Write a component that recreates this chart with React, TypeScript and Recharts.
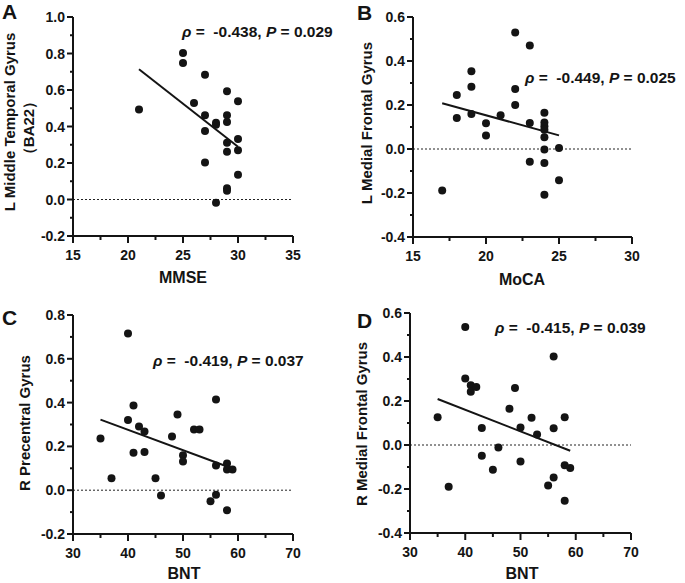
import React from 'react';
import { ScatterChart, Scatter, XAxis, YAxis, ReferenceLine } from 'recharts';

const FONT = '"Liberation Sans", Arial, Helvetica, sans-serif';
const INK = '#141414';

// ---------- Panel A ----------
const mmseA = [21, 25, 25, 26, 27, 27, 27, 27, 28, 28, 28, 29, 29, 29, 29, 29, 29, 29, 30, 30, 30, 30];
const mtgA = [0.493, 0.803, 0.748, 0.529, 0.684, 0.462, 0.376, 0.203, 0.42, 0.41, -0.018, 0.593, 0.462, 0.425, 0.311, 0.261, 0.061, 0.048, 0.539, 0.332, 0.27, 0.135];
const fitXA = [21, 30];
const fitYA = [0.714, 0.289];
const xTicksA = [15, 17.5, 20, 22.5, 25, 27.5, 30, 32.5, 35];
const yTicksA = [-0.2, -0.1, 0, 0.1, 0.2, 0.3, 0.4, 0.5, 0.6, 0.7, 0.8, 0.9, 1.0];

// ---------- Panel B ----------
const mocaB = [17, 18, 18, 19, 19, 19, 20, 20, 21, 22, 22, 22, 23, 23, 23, 24, 24, 24, 24, 24, 24, 24, 24, 25, 25];
const mfgB = [-0.189, 0.245, 0.141, 0.353, 0.283, 0.159, 0.117, 0.061, 0.153, 0.53, 0.273, 0.2, 0.471, 0.118, -0.058, 0.165, 0.121, 0.103, 0.088, 0.053, -0.002, -0.064, -0.208, 0.005, -0.142];
const fitXB = [17, 25];
const fitYB = [0.208, 0.062];
const xTicksB = [15, 17.5, 20, 22.5, 25, 27.5, 30];
const yTicksB = [-0.4, -0.3, -0.2, -0.1, 0, 0.1, 0.2, 0.3, 0.4, 0.5, 0.6];

// ---------- Panel C ----------
const bntC = [35, 37, 40, 40, 41, 41, 42, 43, 43, 45, 46, 48, 49, 50, 50, 52, 53, 55, 56, 56, 56, 58, 58, 58, 59];
const pcgC = [0.236, 0.055, 0.716, 0.32, 0.387, 0.171, 0.291, 0.268, 0.174, 0.055, -0.024, 0.245, 0.346, 0.16, 0.131, 0.277, 0.277, -0.051, 0.414, 0.113, -0.021, 0.122, 0.095, -0.092, 0.094];
const fitXC = [35, 59];
const fitYC = [0.322, 0.099];
const xTicksC = [30, 35, 40, 45, 50, 55, 60, 65, 70];
const yTicksC = [-0.2, -0.1, 0, 0.1, 0.2, 0.3, 0.4, 0.5, 0.6, 0.7, 0.8];

// ---------- Panel D ----------
const bntD = [35, 37, 40, 40, 41, 41, 42, 43, 43, 45, 46, 48, 49, 50, 50, 52, 53, 55, 56, 56, 56, 58, 58, 58, 59];
const mfgD = [0.126, -0.19, 0.536, 0.302, 0.272, 0.242, 0.264, 0.077, -0.049, -0.113, -0.011, 0.165, 0.259, 0.08, -0.075, 0.124, 0.048, -0.184, 0.402, 0.076, -0.148, 0.126, -0.092, -0.253, -0.105];
const fitXD = [35, 59];
const fitYD = [0.209, -0.026];
const xTicksD = [30, 35, 40, 45, 50, 55, 60, 65, 70];
const yTicksD = [-0.4, -0.3, -0.2, -0.1, 0, 0.1, 0.2, 0.3, 0.4, 0.5, 0.6];

const zip = (xs: number[], ys: number[]) => xs.map((x, i) => ({ x, y: ys[i] }));

const makeYTick = () => (props: any) => {
  const { x, y, payload } = props;
  const v = payload.value as number;
  const major = Math.abs(Math.round(v * 10)) % 2 === 0;
  return (
    <g>
      <line x1={x - (major ? 6 : 3)} x2={x} y1={y} y2={y} stroke={INK} strokeWidth={2} />
      {major && (
        <text x={x - 8} y={y} dy="0.36em" textAnchor="end" fontFamily={FONT} fontWeight="bold" fontSize={14} fill={INK}>
          {v.toFixed(1)}
        </text>
      )}
    </g>
  );
};

const makeXTick = (step: number) => (props: any) => {
  const { x, y, payload } = props;
  const v = payload.value as number;
  const major = Math.abs(v % step) < 1e-9;
  return (
    <g>
      <line x1={x} x2={x} y1={y} y2={y + (major ? 7 : 4)} stroke={INK} strokeWidth={2} />
      {major && (
        <text x={x} y={y + 24} textAnchor="middle" fontFamily={FONT} fontWeight="bold" fontSize={14} fill={INK}>
          {String(v)}
        </text>
      )}
    </g>
  );
};

const dot = (p: any) => <circle cx={p.cx} cy={p.cy} r={4} fill={INK} />;

type PanelProps = {
  left: number;
  top: number;
  width: number;
  height: number;
  marginTop: number;
  marginRight: number;
  yAxisWidth: number;
  xAxisHeight: number;
  xDomain: [number, number];
  xTicks: number[];
  xStep: number;
  yDomain: [number, number];
  yTicks: number[];
  xs: number[];
  ys: number[];
  fitX: number[];
  fitY: number[];
  letter: string;
  letterPos: [number, number];
  yLabel: string[];
  yLabelPos: [number, number][];
  xLabel: string;
  xLabelPos: [number, number];
  rho: string;
  p: string;
  statPos: [number, number];
};

function Panel(pp: PanelProps) {
  const data = zip(pp.xs, pp.ys);
  const textStyle = { fontFamily: FONT, fontWeight: 'bold' as const, fill: INK };
  return (
    <div style={{ position: 'absolute', left: pp.left, top: pp.top }}>
      <ScatterChart
        width={pp.width}
        height={pp.height}
        margin={{ top: pp.marginTop, right: pp.marginRight, bottom: 0, left: 0 }}
      >
        <XAxis
          type="number"
          dataKey="x"
          domain={pp.xDomain}
          ticks={pp.xTicks}
          interval={0}
          height={pp.xAxisHeight}
          tickSize={0}
          tickMargin={0}
          tickLine={false}
          axisLine={{ stroke: INK, strokeWidth: 2 }}
          tick={makeXTick(pp.xStep)}
          allowDataOverflow
        />
        <YAxis
          type="number"
          dataKey="y"
          domain={pp.yDomain}
          ticks={pp.yTicks}
          interval={0}
          width={pp.yAxisWidth}
          tickSize={0}
          tickMargin={0}
          tickLine={false}
          axisLine={{ stroke: INK, strokeWidth: 2 }}
          tick={makeYTick()}
          allowDataOverflow
        />
        <ReferenceLine y={0} stroke="#222" strokeWidth={1} strokeDasharray="2 2" />
        <ReferenceLine
          segment={[
            { x: pp.fitX[0], y: pp.fitY[0] },
            { x: pp.fitX[1], y: pp.fitY[1] },
          ]}
          stroke={INK}
          strokeWidth={2}
        />
        <Scatter data={data} fill={INK} shape={dot} isAnimationActive={false} />
        <text x={pp.letterPos[0]} y={pp.letterPos[1]} fontSize={21} {...textStyle}>
          {pp.letter}
        </text>
        {pp.yLabel.map((s, i) => (
          <text
            key={i}
            transform={`translate(${pp.yLabelPos[i][0]},${pp.yLabelPos[i][1]}) rotate(-90)`}
            textAnchor="middle"
            dy="0.36em"
            fontSize={15}
            {...textStyle}
          >
            {s}
          </text>
        ))}
        <text x={pp.xLabelPos[0]} y={pp.xLabelPos[1]} textAnchor="middle" fontSize={16} {...textStyle}>
          {pp.xLabel}
        </text>
        <text x={pp.statPos[0]} y={pp.statPos[1]} fontSize={15.5} style={{ whiteSpace: 'pre' }} {...textStyle}>
          <tspan fontStyle="italic">ρ</tspan>
          <tspan>{' =  ' + pp.rho + ', '}</tspan>
          <tspan fontStyle="italic">P</tspan>
          <tspan>{' = ' + pp.p}</tspan>
        </text>
      </ScatterChart>
    </div>
  );
}

export default function App() {
  return (
    <div style={{ position: 'absolute', left: 0, top: 0, width: 685, height: 583, background: '#fff' }}>
      <Panel
        left={0}
        top={0}
        width={340}
        height={300}
        marginTop={17}
        marginRight={47}
        yAxisWidth={73}
        xAxisHeight={64}
        xDomain={[15, 35]}
        xTicks={xTicksA}
        xStep={5}
        yDomain={[-0.2, 1.0]}
        yTicks={yTicksA}
        xs={mmseA}
        ys={mtgA}
        fitX={fitXA}
        fitY={fitYA}
        letter="A"
        letterPos={[2, 19]}
        yLabel={['L Middle Temporal Gyrus', '（BA22）']}
        yLabelPos={[[10, 122], [29, 128]]}
        xLabel="MMSE"
        xLabelPos={[183, 283]}
        rho="-0.438"
        p="0.029"
        statPos={[182, 37]}
      />
      <Panel
        left={340}
        top={0}
        width={345}
        height={300}
        marginTop={17}
        marginRight={53}
        yAxisWidth={73}
        xAxisHeight={63}
        xDomain={[15, 30]}
        xTicks={xTicksB}
        xStep={5}
        yDomain={[-0.4, 0.6]}
        yTicks={yTicksB}
        xs={mocaB}
        ys={mfgB}
        fitX={fitXB}
        fitY={fitYB}
        letter="B"
        letterPos={[17, 20]}
        yLabel={['L Medial Frontal Gyrus']}
        yLabelPos={[[27, 123]]}
        xLabel="MoCA"
        xLabelPos={[182, 285]}
        rho="-0.449"
        p="0.025"
        statPos={[185, 83]}
      />
      <Panel
        left={0}
        top={300}
        width={340}
        height={283}
        marginTop={15}
        marginRight={47}
        yAxisWidth={73}
        xAxisHeight={49}
        xDomain={[30, 70]}
        xTicks={xTicksC}
        xStep={10}
        yDomain={[-0.2, 0.8]}
        yTicks={yTicksC}
        xs={bntC}
        ys={pcgC}
        fitX={fitXC}
        fitY={fitYC}
        letter="C"
        letterPos={[2, 25]}
        yLabel={['R Precentral Gyrus']}
        yLabelPos={[[25, 123]]}
        xLabel="BNT"
        xLabelPos={[184, 279]}
        rho="-0.419"
        p="0.037"
        statPos={[153, 66]}
      />
      <Panel
        left={340}
        top={300}
        width={345}
        height={283}
        marginTop={13}
        marginRight={54}
        yAxisWidth={70}
        xAxisHeight={50}
        xDomain={[30, 70]}
        xTicks={xTicksD}
        xStep={10}
        yDomain={[-0.4, 0.6]}
        yTicks={yTicksD}
        xs={bntD}
        ys={mfgD}
        fitX={fitXD}
        fitY={fitYD}
        letter="D"
        letterPos={[17, 28]}
        yLabel={['R Medial Frontal Gyrus']}
        yLabelPos={[[22, 124]]}
        xLabel="BNT"
        xLabelPos={[182, 279]}
        rho="-0.415"
        p="0.039"
        statPos={[155, 33]}
      />
    </div>
  );
}
